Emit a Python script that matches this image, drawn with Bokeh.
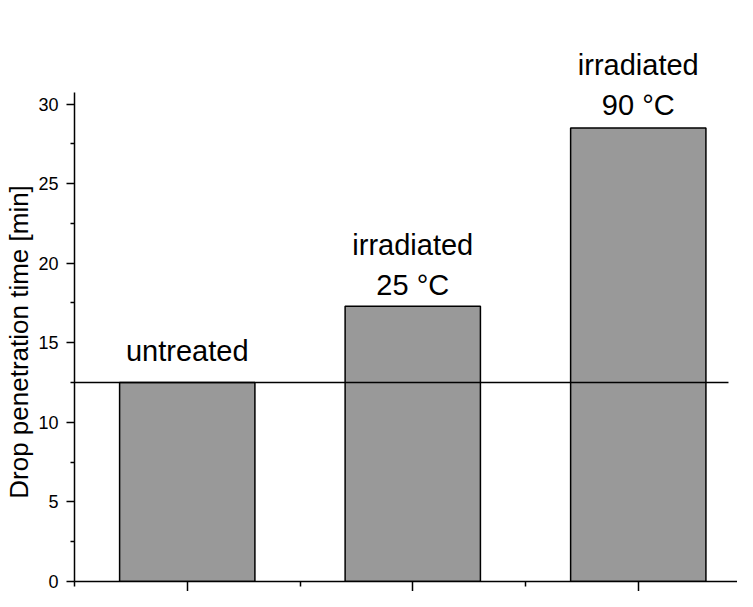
from bokeh.plotting import figure
from bokeh.models import Range1d, FixedTicker, CustomJSTickFormatter
from bokeh.core.properties import value
from bokeh.embed import file_html
from bokeh.resources import INLINE

# ---- data ----
categories = ["untreated", "irradiated\n25 °C", "irradiated\n90 °C"]
positions = [1, 2, 3]
times = [12.5, 17.3, 28.5]
y_ticks = [0, 5, 10, 15, 20, 25, 30]
y_minor_ticks = [2.5, 7.5, 12.5, 17.5, 22.5, 27.5]
x_ticks = [1, 2, 3]
x_minor_ticks = [0.5, 1.5, 2.5, 3.5]
reference_level = times[0]
y_title = "Drop penetration time [min]"

# ---- styles ----
label_offsets = [-16, -5, -7]
FONT = "Liberation Sans"
Y_AXIS_TOP = 30.7
# pad the title at its top end so that it sits centred on the drawn axis line
TITLE_PAD = "\u00a0" * 13

p = figure(width=737, height=591,
           x_range=Range1d(0.5, 3.44), y_range=Range1d(0, 36.0),
           output_backend="svg", toolbar_location=None,
           min_border_left=74, min_border_right=0,
           min_border_top=8, min_border_bottom=10)
p.outline_line_color = None
p.xgrid.grid_line_color = None
p.ygrid.grid_line_color = None
p.background_fill_color = "white"
p.border_fill_color = "white"

p.vbar(x=positions, top=times, bottom=0, width=0.6,
       fill_color="#999999", line_color="black", line_width=1.5)

p.segment(x0=[0.5], y0=[reference_level], x1=[3.4], y1=[reference_level],
          line_color="black", line_width=1.4)

p.text(x=positions, y=times, text=categories, y_offset=label_offsets,
       text_align="center", text_baseline="bottom",
       text_font=value(FONT), text_font_size="29px",
       text_line_height=1.24, text_color="black")

# y axis
ya = p.yaxis[0]
ya.ticker = FixedTicker(ticks=y_ticks, minor_ticks=y_minor_ticks)
ya.bounds = (0, Y_AXIS_TOP)
ya.axis_line_width = 1.5
ya.axis_line_color = "black"
ya.major_tick_line_width = 1.5
ya.minor_tick_line_width = 1.5
ya.major_tick_out = 8
ya.major_tick_in = 0
ya.minor_tick_out = 4
ya.minor_tick_in = 0
ya.major_label_text_font = FONT
ya.major_label_text_font_size = "18px"
ya.major_label_text_color = "black"
ya.major_label_standoff = 8
ya.axis_label = y_title + TITLE_PAD
ya.axis_label_text_font = FONT
ya.axis_label_text_font_size = "26px"
ya.axis_label_text_font_style = "normal"
ya.axis_label_text_color = "black"
ya.axis_label_standoff = 1

# x axis (ticks only, no labels)
xa = p.xaxis[0]
xa.ticker = FixedTicker(ticks=x_ticks, minor_ticks=x_minor_ticks)
xa.formatter = CustomJSTickFormatter(code="return ''")
xa.axis_line_width = 1.5
xa.axis_line_color = "black"
xa.major_tick_line_width = 1.5
xa.minor_tick_line_width = 1.5
xa.major_tick_out = 10
xa.major_tick_in = 0
xa.minor_tick_out = 5
xa.minor_tick_in = 0
xa.major_label_text_font_size = "1px"
xa.major_label_standoff = 0

open("out.html", "w").write(file_html(p, INLINE))
